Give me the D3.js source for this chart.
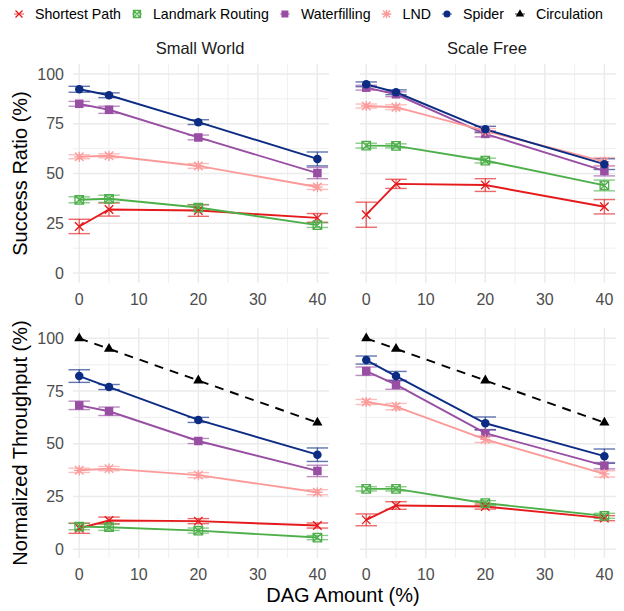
<!DOCTYPE html>
<meta charset="utf-8">
<script src="https://d3js.org/d3.v7.min.js"></script>
<style>
  body { margin: 0; background: white; }
  text { font-family: "Liberation Sans", Arial, sans-serif; }
</style>
<div id="chart"></div>
<script>
// DAG amount on the x axis
var dagAmounts = [0, 5, 20, 40];
var methods = ["Shortest Path", "Landmark Routing", "Waterfilling", "LND", "Spider", "Circulation"];
var methodColors = ["#e41a1c", "#4daf4a", "#984ea3", "#fb9a99", "#0c2c84", "#000000"];
var methodShapes = ["x", "boxx", "square", "asterisk", "circle", "triangle"];

var topologies = ["Small World", "Scale Free"];
var xTicks = [0, 10, 20, 30, 40];
var yTicks = [0, 25, 50, 75, 100];

// success ratio (%)
var smallWorldSuccess = {
  "Shortest Path":    [23.4, 31.9, 31.4, 27.7],
  "Landmark Routing": [36.8, 37.3, 32.9, 24.1],
  "Waterfilling":     [85.0, 82.0, 68.1, 50.2],
  "LND":              [58.4, 58.9, 53.8, 43.2],
  "Spider":           [92.3, 89.3, 75.8, 57.3]
};
var smallWorldSuccessErr = {
  "Shortest Path":    [3.6, 3.3, 2.9, 2.2],
  "Landmark Routing": [1.5, 1.8, 1.5, 1.2],
  "Waterfilling":     [1.2, 1.8, 1.2, 2.8],
  "LND":              [1.0, 1.0, 1.2, 1.2],
  "Spider":           [1.5, 1.2, 1.2, 3.5]
};
var scaleFreeSuccess = {
  "Shortest Path":    [29.3, 44.8, 44.2, 33.3],
  "Landmark Routing": [64.0, 63.9, 56.5, 44.0],
  "Waterfilling":     [93.1, 89.8, 69.9, 51.3],
  "LND":              [83.9, 83.3, 71.4, 56.0],
  "Spider":           [94.8, 90.8, 72.2, 54.7]
};
var scaleFreeSuccessErr = {
  "Shortest Path":    [6.3, 2.3, 3.2, 3.6],
  "Landmark Routing": [1.2, 1.0, 1.2, 2.7],
  "Waterfilling":     [1.2, 1.2, 1.5, 2.5],
  "LND":              [1.0, 1.2, 1.2, 2.0],
  "Spider":           [1.2, 1.2, 1.5, 2.7]
};

// normalized throughput (%)
var smallWorldThroughput = {
  "Shortest Path":    [9.9, 13.6, 13.3, 11.2],
  "Landmark Routing": [10.7, 10.4, 8.8, 5.5],
  "Waterfilling":     [68.2, 65.4, 51.3, 37.1],
  "LND":              [37.4, 38.2, 35.1, 27.0],
  "Spider":           [82.1, 76.9, 61.3, 44.8],
  "Circulation":      [100, 95, 80, 60]
};
var smallWorldThroughputErr = {
  "Shortest Path":    [2.4, 1.6, 1.2, 1.2],
  "Landmark Routing": [1.5, 1.5, 1.2, 1.0],
  "Waterfilling":     [2.0, 2.0, 1.2, 2.7],
  "LND":              [1.0, 1.0, 1.2, 1.2],
  "Spider":           [3.0, 1.2, 1.2, 3.2],
  "Circulation":      [0, 0, 0, 0]
};
var scaleFreeThroughput = {
  "Shortest Path":    [13.9, 20.7, 20.2, 14.7],
  "Landmark Routing": [28.6, 28.6, 21.8, 15.8],
  "Waterfilling":     [84.4, 78.0, 55.0, 39.6],
  "LND":              [69.8, 67.6, 52.1, 35.7],
  "Spider":           [89.7, 82.1, 59.7, 44.1],
  "Circulation":      [100, 95, 80, 60]
};
var scaleFreeThroughputErr = {
  "Shortest Path":    [2.8, 1.8, 1.2, 1.2],
  "Landmark Routing": [1.0, 1.0, 1.2, 1.2],
  "Waterfilling":     [2.0, 2.2, 1.5, 1.5],
  "LND":              [1.2, 1.5, 1.5, 1.5],
  "Spider":           [1.9, 2.2, 3.0, 3.4],
  "Circulation":      [0, 0, 0, 0]
};

var svg = d3.select("#chart").append("svg")
  .attr("width", 624)
  .attr("height", 611);

var colLeft = [73, 360], colWidth = 256;
var rows = [
  { top: 64, bottom: 283, domain: [-5, 105], title: "Success Ratio (%)",
    data: [smallWorldSuccess, scaleFreeSuccess], err: [smallWorldSuccessErr, scaleFreeSuccessErr] },
  { top: 328, bottom: 558, domain: [-4.2, 104.9], title: "Normalized Throughput (%)",
    data: [smallWorldThroughput, scaleFreeThroughput], err: [smallWorldThroughputErr, scaleFreeThroughputErr] }
];

function symbolPath(shape, s) {
  var h = s / 2;
  if (shape == "x") return "M" + (-h) + "," + (-h) + "L" + h + "," + h + "M" + (-h) + "," + h + "L" + h + "," + (-h);
  if (shape == "boxx") return "M" + (-h) + "," + (-h) + "H" + h + "V" + h + "H" + (-h) + "Z" +
      "M" + (-h) + "," + (-h) + "L" + h + "," + h + "M" + (-h) + "," + h + "L" + h + "," + (-h);
  if (shape == "asterisk") return "M" + (-h) + "," + (-h) + "L" + h + "," + h + "M" + (-h) + "," + h + "L" + h + "," + (-h) +
      "M" + (-h * 1.2) + ",0H" + (h * 1.2) + "M0," + (-h * 1.2) + "V" + (h * 1.2);
  return null;
}

function drawPoint(g, shape, color, cx, cy, s) {
  if (shape == "circle") {
    g.append("circle").attr("cx", cx).attr("cy", cy).attr("r", s / 2).attr("fill", color);
  } else if (shape == "square") {
    g.append("rect").attr("x", cx - s / 2).attr("y", cy - s / 2).attr("width", s).attr("height", s).attr("fill", color);
  } else if (shape == "triangle") {
    g.append("path").attr("transform", "translate(" + cx + "," + cy + ")")
      .attr("d", d3.symbol().type(d3.symbolTriangle).size(s * s * 0.62)()).attr("fill", color);
  } else {
    g.append("path").attr("transform", "translate(" + cx + "," + cy + ")")
      .attr("d", symbolPath(shape, s)).attr("fill", "none").attr("stroke", color).attr("stroke-width", 1.3);
  }
}

rows.forEach(function(row, ri) {
  var y = d3.scaleLinear().domain(row.domain).range([row.bottom, row.top]);

  colLeft.forEach(function(left, ci) {
    var x = d3.scaleLinear().domain([-1.05, 41.95]).range([left, left + colWidth]);
    var g = svg.append("g");

    // grid, minor then major
    var minorX = [5, 15, 25, 35], minorY = [12.5, 37.5, 62.5, 87.5];
    g.selectAll(".mx").data(minorX).enter().append("line")
      .attr("x1", d => x(d)).attr("x2", d => x(d)).attr("y1", row.top).attr("y2", row.bottom)
      .attr("stroke", "#ebebeb").attr("stroke-width", 0.8);
    g.selectAll(".my").data(minorY).enter().append("line")
      .attr("y1", d => y(d)).attr("y2", d => y(d)).attr("x1", left).attr("x2", left + colWidth)
      .attr("stroke", "#ebebeb").attr("stroke-width", 0.8);
    g.selectAll(".gx").data(xTicks).enter().append("line")
      .attr("x1", d => x(d)).attr("x2", d => x(d)).attr("y1", row.top).attr("y2", row.bottom)
      .attr("stroke", "#ebebeb").attr("stroke-width", 1.5);
    g.selectAll(".gy").data(yTicks).enter().append("line")
      .attr("y1", d => y(d)).attr("y2", d => y(d)).attr("x1", left).attr("x2", left + colWidth)
      .attr("stroke", "#ebebeb").attr("stroke-width", 1.5);

    // x tick labels
    g.selectAll(".tx").data(xTicks).enter().append("text")
      .attr("x", d => x(d)).attr("y", row.bottom + 22)
      .attr("text-anchor", "middle").attr("font-size", 16).attr("fill", "#4d4d4d")
      .text(d => d);

    // y tick labels only on the left column
    if (ci == 0) {
      g.selectAll(".ty").data(yTicks).enter().append("text")
        .attr("x", left - 9).attr("y", d => y(d)).attr("dy", "0.36em")
        .attr("text-anchor", "end").attr("font-size", 16).attr("fill", "#4d4d4d")
        .text(d => d);
    }

    // strip titles on the top row
    if (ri == 0) {
      svg.append("text").attr("x", left + colWidth / 2 - 1).attr("y", 54)
        .attr("text-anchor", "middle").attr("font-size", 16.5).attr("fill", "#1a1a1a")
        .text(topologies[ci]);
    }

    var data = row.data[ci], err = row.err[ci];
    var present = methods.filter(m => data[m]);

    // error bars
    present.forEach(function(m) {
      var col = methodColors[methods.indexOf(m)];
      dagAmounts.forEach(function(d, i) {
        var e = err[m][i];
        if (!e) return;
        var v = data[m][i];
        var eg = g.append("g").attr("stroke", col).attr("stroke-opacity", 0.65).attr("stroke-width", 1.4);
        eg.append("line").attr("x1", x(d)).attr("x2", x(d)).attr("y1", y(v - e)).attr("y2", y(v + e));
        eg.append("line").attr("x1", x(d - 1.8)).attr("x2", x(d + 1.8)).attr("y1", y(v - e)).attr("y2", y(v - e));
        eg.append("line").attr("x1", x(d - 1.8)).attr("x2", x(d + 1.8)).attr("y1", y(v + e)).attr("y2", y(v + e));
      });
    });

    // lines
    var line = d3.line().x(d => x(d[0])).y(d => y(d[1]));
    present.forEach(function(m) {
      var col = methodColors[methods.indexOf(m)];
      g.append("path")
        .datum(dagAmounts.map((d, i) => [d, data[m][i]]))
        .attr("d", line).attr("fill", "none").attr("stroke", col).attr("stroke-width", 1.9)
        .attr("stroke-dasharray", m == "Circulation" ? "9,7" : null);
    });

    // points
    present.forEach(function(m) {
      var k = methods.indexOf(m);
      dagAmounts.forEach(function(d, i) {
        drawPoint(g, methodShapes[k], methodColors[k], x(d), y(data[m][i]), 8.5);
      });
    });
  });

  // row y title
  var cy = (row.top + row.bottom) / 2;
  svg.append("text").attr("transform", "translate(27," + cy + ") rotate(-90)")
    .attr("text-anchor", "middle").attr("font-size", 20).attr("fill", "#000")
    .text(row.title);
});

// x title
svg.append("text").attr("x", 343).attr("y", 602)
  .attr("text-anchor", "middle").attr("font-size", 20).attr("fill", "#000")
  .text("DAG Amount (%)");

// legend
var cursor = 19;
methods.forEach(function(m, k) {
  var lg = svg.append("g");
  lg.append("line").attr("x1", cursor - 5).attr("x2", cursor + 5).attr("y1", 14).attr("y2", 14)
    .attr("stroke", methodColors[k]).attr("stroke-opacity", 0.65).attr("stroke-width", 1.2);
  drawPoint(lg, methodShapes[k], methodColors[k], cursor, 14, 7);
  var t = lg.append("text").attr("x", cursor + 16).attr("y", 14).attr("dy", "0.36em")
    .attr("font-size", 14.2).attr("fill", "#000").text(m);
  cursor = cursor + 16 + t.node().getComputedTextLength() + 16;
});
</script>
